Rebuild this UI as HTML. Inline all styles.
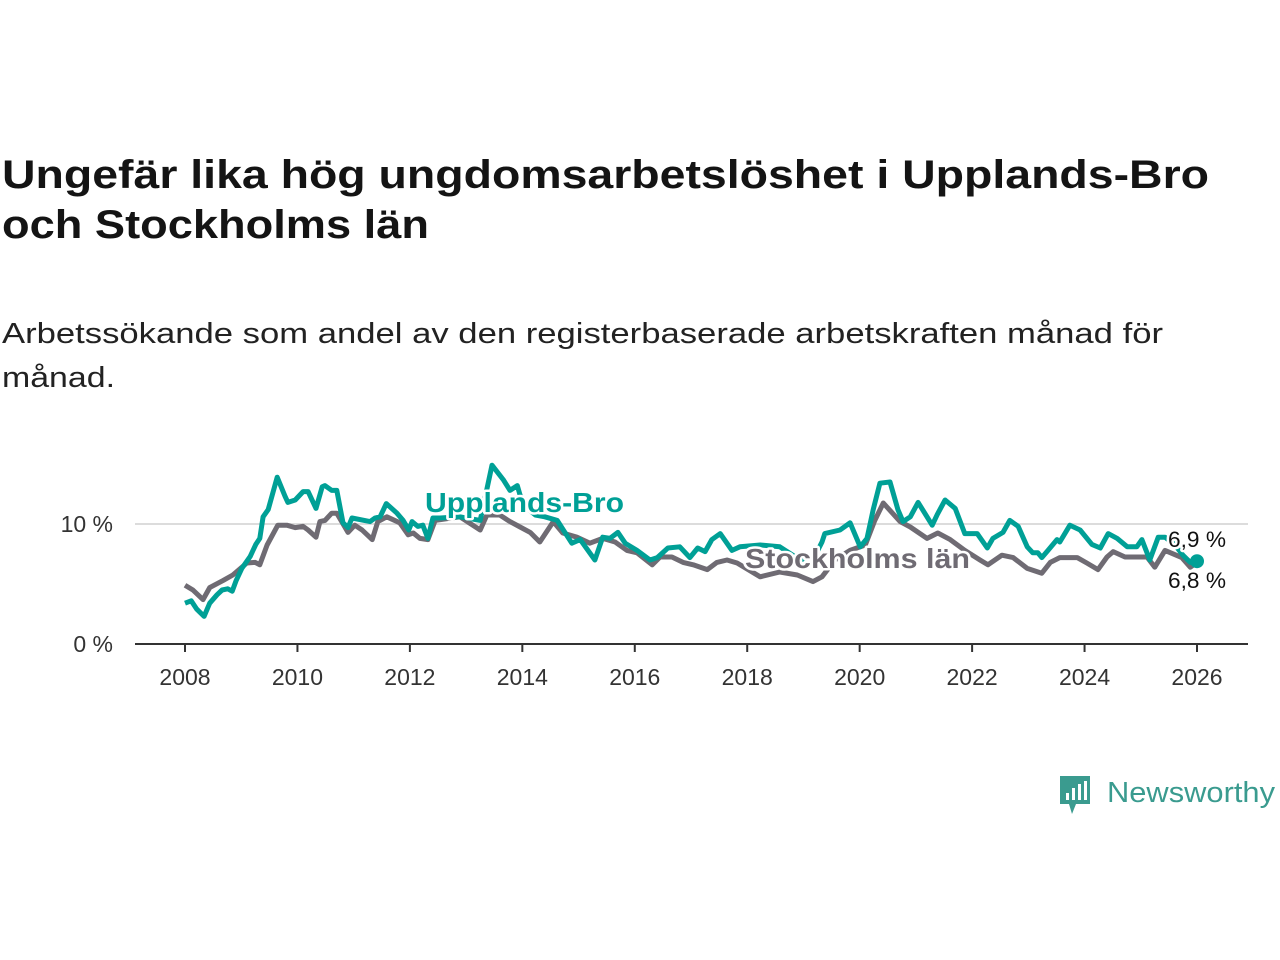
<!DOCTYPE html>
<html><head><meta charset="utf-8"><style>
html,body{margin:0;padding:0;background:#fff;}
svg{display:block;font-family:"Liberation Sans",sans-serif;}
</style></head><body>
<svg id="chart" width="1280" height="960" viewBox="0 0 1280 960">
<text x="2" y="188" font-size="40" font-weight="bold" fill="#141414" textLength="1207" lengthAdjust="spacingAndGlyphs">Ungefär lika hög ungdomsarbetslöshet i Upplands-Bro</text>
<text x="2" y="238" font-size="40" font-weight="bold" fill="#141414" textLength="427" lengthAdjust="spacingAndGlyphs">och Stockholms län</text>
<text x="2" y="343" font-size="29" fill="#222" textLength="1161" lengthAdjust="spacingAndGlyphs">Arbetssökande som andel av den registerbaserade arbetskraften månad för</text>
<text x="2" y="387" font-size="29" fill="#222" textLength="113" lengthAdjust="spacingAndGlyphs">månad.</text>
<g id="axes"></g>
<g id="series"></g>
<g id="labels"></g>
<g>
<path d="M1060 776 h30 v28 h-14 l-4 10 l-3 -10 h-9 z" fill="#3a9b8f"/>
<rect x="1066" y="793" width="3" height="7" fill="#fff"/><rect x="1072" y="788" width="3" height="12" fill="#fff"/><rect x="1078" y="784" width="3" height="16" fill="#fff"/><rect x="1084" y="781" width="3" height="19" fill="#fff"/>
<text x="1107" y="802" font-size="29" fill="#3a9b8f" textLength="168" lengthAdjust="spacingAndGlyphs">Newsworthy</text>
</g>
</svg>
<script>
const xTicks = [2008,2010,2012,2014,2016,2018,2020,2022,2024,2026];
const yTicks = [0,10];
const yTickLabels = ["0 %","10 %"];
const uppDates = [2008.00,2008.11,2008.21,2008.34,2008.44,2008.57,2008.66,2008.76,2008.84,2008.91,2009.01,2009.16,2009.26,2009.33,2009.39,2009.48,2009.64,2009.78,2009.83,2009.96,2010.10,2010.19,2010.33,2010.44,2010.49,2010.61,2010.70,2010.81,2010.90,2010.97,2011.29,2011.38,2011.47,2011.58,2011.77,2011.88,2011.98,2012.04,2012.14,2012.23,2012.32,2012.41,2012.54,2012.89,2013.25,2013.46,2013.66,2013.78,2013.91,2014.01,2014.23,2014.40,2014.62,2014.88,2015.03,2015.29,2015.43,2015.56,2015.70,2015.83,2016.04,2016.27,2016.40,2016.59,2016.80,2016.98,2017.12,2017.25,2017.37,2017.52,2017.73,2017.87,2018.23,2018.58,2018.94,2019.21,2019.33,2019.38,2019.65,2019.83,2020.01,2020.13,2020.24,2020.36,2020.54,2020.68,2020.77,2020.90,2021.04,2021.29,2021.38,2021.52,2021.70,2021.87,2022.09,2022.27,2022.37,2022.55,2022.67,2022.82,2022.98,2023.08,2023.17,2023.24,2023.35,2023.51,2023.56,2023.74,2023.92,2024.13,2024.28,2024.42,2024.58,2024.76,2024.93,2025.02,2025.16,2025.31,2025.43,2025.61,2025.75,2025.88,2026.00];
const uppValues = [3.4,3.6,2.9,2.3,3.4,4.1,4.5,4.6,4.4,5.3,6.3,7.3,8.3,8.8,10.6,11.2,13.9,12.3,11.8,12.0,12.7,12.7,11.3,13.1,13.2,12.8,12.8,10.1,9.7,10.5,10.2,10.5,10.6,11.7,10.9,10.3,9.5,10.2,9.8,9.9,8.8,10.5,10.5,10.6,10.3,14.9,13.7,12.8,13.2,11.6,10.75,10.6,10.3,8.4,8.7,7.0,8.9,8.8,9.3,8.4,7.8,7.0,7.2,8.0,8.1,7.2,8.0,7.7,8.7,9.2,7.8,8.1,8.25,8.1,7.0,7.4,8.5,9.2,9.5,10.1,8.1,8.8,11.2,13.4,13.5,11.2,10.2,10.6,11.8,9.9,10.8,12.0,11.3,9.2,9.2,8.0,8.8,9.3,10.3,9.8,8.1,7.6,7.6,7.2,7.8,8.7,8.5,9.9,9.5,8.3,8.0,9.2,8.8,8.1,8.1,8.7,7.0,8.9,8.9,8.25,7.4,6.8,6.9];
const sthDates = [2008.00,2008.14,2008.32,2008.44,2008.68,2008.85,2009.10,2009.25,2009.33,2009.46,2009.65,2009.81,2009.96,2010.10,2010.19,2010.33,2010.40,2010.49,2010.61,2010.70,2010.90,2011.02,2011.15,2011.33,2011.43,2011.59,2011.82,2011.97,2012.06,2012.18,2012.32,2012.45,2012.89,2013.25,2013.37,2013.60,2013.78,2013.96,2014.14,2014.31,2014.55,2014.72,2014.97,2015.20,2015.43,2015.65,2015.86,2016.04,2016.31,2016.45,2016.66,2016.86,2017.04,2017.29,2017.46,2017.64,2017.82,2018.23,2018.58,2018.89,2019.17,2019.33,2019.56,2019.83,2020.10,2020.27,2020.42,2020.72,2020.90,2021.20,2021.39,2021.61,2021.87,2022.14,2022.28,2022.53,2022.73,2022.98,2023.24,2023.39,2023.56,2023.87,2024.04,2024.24,2024.40,2024.51,2024.72,2025.11,2025.25,2025.43,2025.73,2025.88,2026.00];
const sthValues = [4.9,4.5,3.7,4.7,5.3,5.75,6.75,6.8,6.6,8.25,9.9,9.9,9.7,9.8,9.5,8.9,10.2,10.3,10.9,10.9,9.3,9.9,9.5,8.7,10.2,10.6,10.1,9.1,9.25,8.8,8.7,10.3,10.6,9.5,10.75,10.75,10.2,9.75,9.3,8.5,10.2,9.25,8.9,8.4,8.8,8.5,7.8,7.6,6.6,7.25,7.25,6.8,6.6,6.2,6.8,7.0,6.75,5.6,6.0,5.75,5.2,5.6,7.0,7.8,8.25,10.3,11.75,10.2,9.75,8.8,9.25,8.7,7.8,7.0,6.6,7.4,7.2,6.3,5.9,6.8,7.2,7.2,6.75,6.2,7.25,7.7,7.25,7.25,6.4,7.8,7.2,6.4,6.8];
const endLabels = ["6,9 %","6,8 %"];

const NS="http://www.w3.org/2000/svg";
const xs = y => 185 + (y-2008)*(1197-185)/18;
const ys = v => 644 - v*12;
function mk(tag, attrs, parent){const e=document.createElementNS(NS,tag);for(const k in attrs)e.setAttribute(k,attrs[k]);parent.appendChild(e);return e;}
const axes=document.getElementById('axes'), series=document.getElementById('series'), labels=document.getElementById('labels');
yTicks.forEach((t,i)=>{
  if(t>0){const g=mk('line',{x1:135,x2:1248,y1:ys(t),y2:ys(t),stroke:'#dcdcdc','stroke-width':2},axes);
  
  }
  const tx=mk('text',{x:113,y:ys(t)+8,'font-size':23,fill:'#333','text-anchor':'end'},axes);
  tx.textContent=yTickLabels[i];
  
  
});
const ax=mk('line',{x1:135,x2:1248,y1:644,y2:644,stroke:'#333','stroke-width':2},axes);


xTicks.forEach(t=>{
  const tk=mk('line',{x1:xs(t),x2:xs(t),y1:644,y2:652,stroke:'#333','stroke-width':2},axes);
  
  
  const tx=mk('text',{x:xs(t),y:685,'font-size':23,fill:'#333','text-anchor':'middle'},axes);
  tx.textContent=t;
  
  
});
function line(d,v,color,name){
  const p=d.map((x,i)=>(i?'L':'M')+xs(x).toFixed(1)+' '+ys(v[i]).toFixed(1)).join(' ');
  const el=mk('path',{d:p,fill:'none',stroke:color,'stroke-width':5,'stroke-linejoin':'round'},series);
  
  
}
line(sthDates,sthValues,'#6f6b73','stockholms-lan-line');
line(uppDates,uppValues,'#00a096','upplands-bro-line');
const dot=mk('circle',{cx:xs(uppDates[uppDates.length-1]),cy:ys(uppValues[uppValues.length-1]),r:7,fill:'#00a096'},series);


function lab(x,y,txt,color,name,size,bold,len){
  const t=mk('text',{x:x,y:y,'font-size':size,'font-weight':bold?'bold':'normal',fill:color,stroke:'#fff','stroke-width':5,'paint-order':'stroke','stroke-linejoin':'round',textLength:len,lengthAdjust:'spacingAndGlyphs'},labels);
  t.textContent=txt;
  
  
  return t;
}
lab(425,512,'Upplands-Bro','#00a096','upplands-bro-label',28,true,199);
lab(745,568,'Stockholms län','#6f6b73','stockholms-lan-label',28,true,225);
lab(1168,547,endLabels[0],'#111','end-value-upplands-bro',22,false,58);
lab(1168,588,endLabels[1],'#111','end-value-stockholm',22,false,58);
</script>
</body></html>
